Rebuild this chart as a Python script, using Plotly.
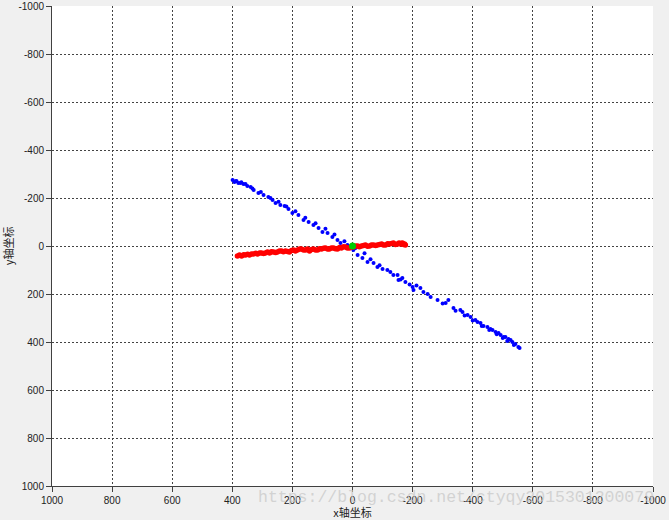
import plotly.graph_objects as go

# tick positions / labels (both axes reversed, MATLAB style)
tick_vals = [-1000, -800, -600, -400, -200, 0, 200, 400, 600, 800, 1000]
tick_text = ["-1000", "-800", "-600", "-400", "-200", "0", "200", "400", "600", "800", "1000"]

# blue track
blue_x = [399, 393, 386, 373, 363, 356, 339, 329, 313, 296, 280, 266, 256, 240, 226, 213,
          200, 180, 163, 146, 130, 113, 100, 83, 67, 50, 40, 17, -3, -17, -33, -50, -70,
          -83, -100, -116, -136, -150, -153, -166, -176, -200, -203, -226, -236, -260,
          -283, -310, -319, -336, -359, -366, -383, -393, -409, -416, -426, -436, -449,
          -459, -466, -476, -486, -493, -503, -509, -519, -526, -532, -542, -552, -556,
          390, 380, 370, 350, 333, 305, 273, 246, 220, 190, 157, 123, 90, 60, 27, -10, -40,
          -60, -90, -126, -160, -190, -213, -250, -300, -343, -373, -400, -430, -455, -480,
          -500, -515, -537]
blue_y = [-275, -267, -271, -262, -258, -258, -246, -233, -221, -213, -204, -192, -179, -171,
          -167, -154, -138, -129, -108, -100, -88, -75, -58, -54, -38, -25, -13, -4, 17, 38,
          50, 67, 71, 88, 96, 100, 121, 121, 142, 133, 150, 171, 183, 175, 192, 213, 225, 238,
          225, 258, 267, 275, 288, 296, 308, 317, 321, 333, 338, 346, 350, 358, 363, 371,
          379, 379, 388, 392, 400, 408, 421, 425,
          -270, -262, -266, -250, -240, -225, -200, -184, -165, -145, -118, -95, -72, -48,
          -20, 8, 30, 55, 80, 108, 140, 160, 165, 200, 240, 270, 290, 310, 333, 350, 368,
          383, 396, 412]

# red track
red_x = [383, 376, 369, 362, 356, 349, 343, 336, 329, 322, 316, 309, 303, 296, 290, 283,
         276, 270, 263, 256, 250, 243, 236, 230, 223, 216, 210, 203, 196, 190, 183, 176,
         170, 163, 156, 150, 143, 136, 130, 123, 116, 110, 103, 96, 90, 83, 77, 70, 63, 57,
         50, 43, 37, 30, 23, 17, 10, 3, -3, -10, -17, -23, -30, -37, -43, -50, -57, -63,
         -70, -77, -83, -90, -97, -103, -110, -117, -123, -130, -136, -143, -150, -155,
         -160, -163, -166, -170, -173, -176]
red_y = [42, 38, 42, 36, 38, 34, 38, 33, 33, 30, 33, 29, 29, 31, 29, 25, 29, 24, 25, 27,
         25, 21, 21, 24, 21, 23, 25, 19, 17, 21, 17, 13, 13, 17, 17, 13, 21, 15, 13, 17, 17,
         11, 13, 9, 8, 12, 13, 8, 8, 11, 13, 6, 8, 3, 4, 8, 8, 2, 4, 0, 0, 3, 0, -2, -4, 1,
         0, -4, -4, -2, -4, -6, -8, -4, -4, -9, -8, -10, -13, -6, -8, -12, -8, -10, -13, -6,
         -8, -4]

# origin
green_x = [0]
green_y = [0]

fig = go.Figure()
fig.add_trace(go.Scatter(x=blue_x, y=blue_y, mode="markers",
                         marker=dict(color="#0000ff", size=4), showlegend=False))
fig.add_trace(go.Scatter(x=red_x, y=red_y, mode="markers",
                         marker=dict(color="#ff0000", size=5.5), showlegend=False))
fig.add_trace(go.Scatter(x=green_x, y=green_y, mode="markers",
                         marker=dict(color="#00cc00", size=7), showlegend=False))

axis_common = dict(
    tickvals=tick_vals, ticktext=tick_text, automargin=False,
    showgrid=True, gridcolor="#444444", griddash="2px,2px", gridwidth=1,
    showline=True, linecolor="#404040", linewidth=1,
    ticks="outside", ticklen=5, tickcolor="#404040",
    tickfont=dict(family="Liberation Sans, Arial", size=10, color="#222222"),
    zeroline=False, mirror=False,
)

fig.update_layout(
    width=669, height=520,
    margin=dict(l=52, r=16, t=6, b=34),
    paper_bgcolor="#f0f0f0",
    plot_bgcolor="#ffffff",
    xaxis=dict(range=[1000, -1000], title=dict(text="x轴坐标", standoff=2,
               font=dict(family="Noto Sans CJK SC", size=11, color="#222222")),
               **axis_common),
    yaxis=dict(range=[1000, -1000], title=dict(text="y轴坐标", standoff=6,
               font=dict(family="Noto Sans CJK SC", size=11, color="#222222")),
               **axis_common),
    annotations=[dict(text="https://blog.csdn.net/ctyqy2015301200079",
                      xref="paper", yref="paper", x=1.005, y=0.0,
                      xanchor="right", yanchor="top", showarrow=False,
                      font=dict(family="Liberation Mono", size=16.5, color="rgba(200,200,200,0.75)"))],
)

# drop the page's default body margin so the figure sits at the top-left corner
fig.write_html("out.html", config={"displayModeBar": False},
               post_script="document.body.style.margin='0';")
